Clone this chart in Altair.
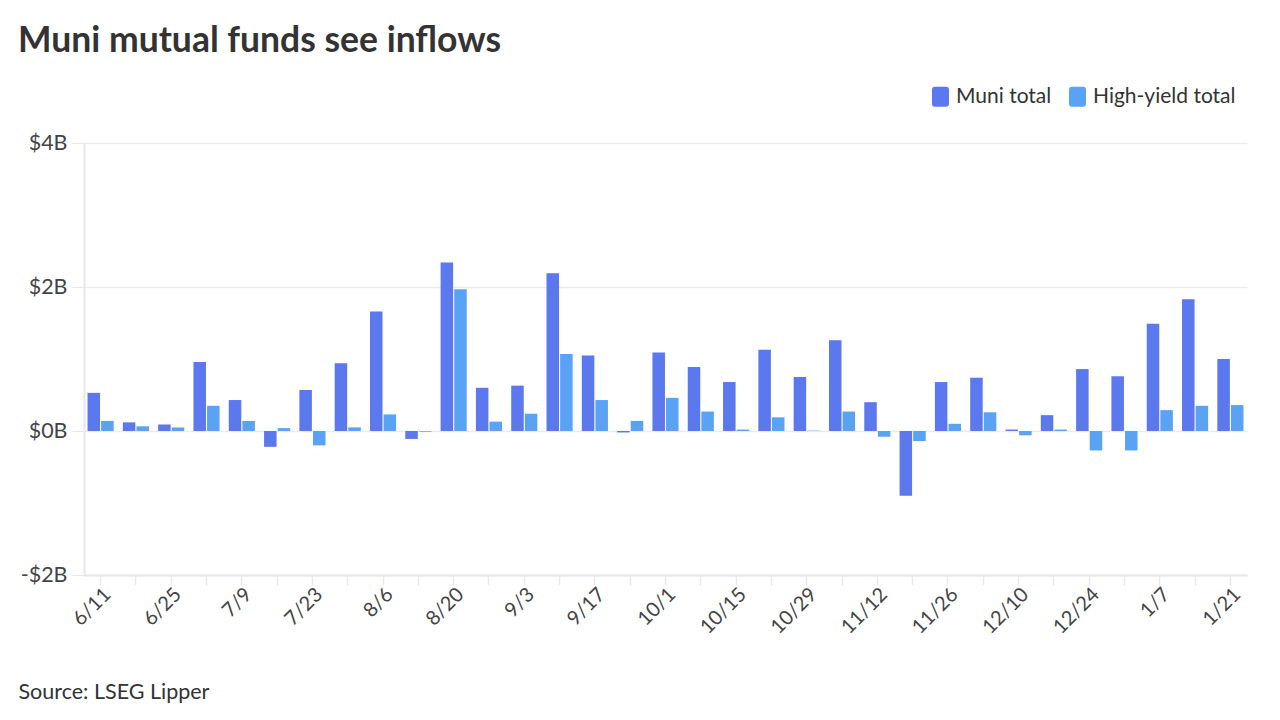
import altair as alt
import pandas as pd

weeks = ["6/11", "6/18", "6/25", "7/2", "7/9", "7/16", "7/23", "7/30", "8/6", "8/13",
         "8/20", "8/27", "9/3", "9/10", "9/17", "9/24", "10/1", "10/8", "10/15", "10/22",
         "10/29", "11/5", "11/12", "11/19", "11/26", "12/3", "12/10", "12/17", "12/24",
         "12/31", "1/7", "1/14", "1/21"]
muni_total = [0.53, 0.12, 0.09, 0.96, 0.43, -0.22, 0.57, 0.94, 1.66, -0.11,
              2.34, 0.60, 0.63, 2.19, 1.05, -0.02, 1.09, 0.89, 0.68, 1.13,
              0.75, 1.26, 0.40, -0.90, 0.68, 0.74, 0.02, 0.22, 0.86, 0.76,
              1.49, 1.83, 1.00]
high_yield_total = [0.14, 0.065, 0.05, 0.35, 0.14, 0.04, -0.20, 0.05, 0.23, -0.01,
                    1.97, 0.13, 0.24, 1.07, 0.43, 0.14, 0.46, 0.27, 0.02, 0.19,
                    0.005, 0.27, -0.08, -0.14, 0.10, 0.26, -0.06, 0.02, -0.27, -0.27,
                    0.29, 0.35, 0.36]
series_names = ["Muni total", "High-yield total"]
series_colors = ["#5B78EE", "#5AA2F4"]
shown_labels = weeks[::2]

rows = []
for w, m, h in zip(weeks, muni_total, high_yield_total):
    rows.append({"week": w, "series": series_names[0], "value": m})
    rows.append({"week": w, "series": series_names[1], "value": h})
df = pd.DataFrame(rows)

label_list = "[" + ",".join("'" + s + "'" for s in shown_labels) + "]"
rounded_square = ("M -0.55 -1 L 0.55 -1 Q 0.85 -1 0.85 -0.7 L 0.85 0.7 Q 0.85 1 0.55 1 "
                  "L -0.55 1 Q -0.85 1 -0.85 0.7 L -0.85 -0.7 Q -0.85 -1 -0.55 -1 Z")

chart = alt.Chart(df).mark_bar().encode(
    x=alt.X("week:N", sort=weeks,
            scale=alt.Scale(paddingInner=0.26, paddingOuter=0.10),
            axis=alt.Axis(
                title="Source: LSEG Lipper",
                titleX=-66, titleY=123, titleAlign="left", titleAnchor="start",
                titleBaseline="alphabetic",
                titleFont="Lato", titleFontSize=21.5, titleFontWeight="normal", titleColor="#333333",
                labelExpr=f"indexof({label_list}, datum.value) >= 0 ? datum.value : ''",
                labelAngle=-45, labelAlign="right", labelBaseline="middle",
                labelFont="Lato", labelFontSize=20, labelColor="#444444", labelPadding=6,
                labelOffset=7,
                domainColor="#e8e8e8", domainWidth=2, tickColor="#e8e8e8", tickSize=10,
                tickWidth=1.5, grid=False, labelOverlap=False)),
    xOffset=alt.XOffset("series:N", sort=series_names, scale=alt.Scale(paddingInner=0.08)),
    y=alt.Y("value:Q",
            scale=alt.Scale(domain=[-2, 4], nice=False),
            axis=alt.Axis(
                title=None, values=[-2, 0, 2, 4],
                labelExpr="datum.value < 0 ? '-$' + abs(datum.value) + 'B' : '$' + datum.value + 'B'",
                labelFont="Lato", labelFontSize=21.5, labelColor="#444444", labelPadding=5,
                domainColor="#e8e8e8", domainWidth=2, tickColor="#e8e8e8", tickSize=12,
                gridColor="#ebebeb", gridWidth=1.5)),
    color=alt.Color("series:N",
                    scale=alt.Scale(domain=series_names, range=series_colors),
                    legend=alt.Legend(
                        title=None, orient="none", direction="horizontal",
                        legendX=846, legendY=-57,
                        symbolType=rounded_square, symbolSize=400, symbolStrokeWidth=0,
                        labelFont="Lato", labelFontSize=21, labelColor="#333333",
                        labelOffset=5, columnPadding=15)),
).properties(
    width=1163, height=432,
    title=alt.Title("Muni mutual funds see inflows", anchor="start", frame="group", dx=-66,
                    font="Lato", fontSize=35.5, fontWeight="bold", color="#333333",
                    offset=27),
    autosize=alt.AutoSizeParams(type="none"),
    padding={"left": 76, "top": 135, "right": 25, "bottom": 145},
).configure_view(stroke=None)

chart.save("out.html", embed_options={"renderer": "svg", "actions": False})
